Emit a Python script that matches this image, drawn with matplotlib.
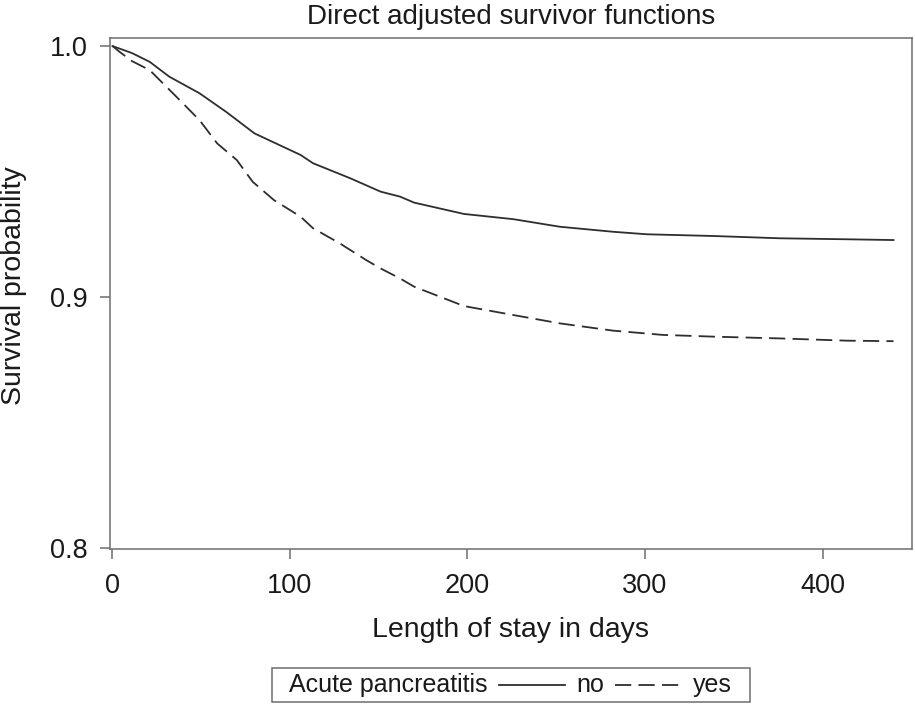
import matplotlib
matplotlib.use("Agg")
import matplotlib.pyplot as plt
from matplotlib.lines import Line2D
from matplotlib.offsetbox import TextArea, DrawingArea, HPacker, AnchoredOffsetbox

plt.rcParams["font.family"] = ["Liberation Sans", "DejaVu Sans"]

# survivor curve: no acute pancreatitis
no_days = [0, 11, 21, 32, 49, 64, 80, 106, 113, 134, 151, 162, 170, 198, 226,
           252, 282, 301, 339, 376, 414, 440]
no_surv = [1.0, 0.9972, 0.9937, 0.9878, 0.9812, 0.9738, 0.9652, 0.9566, 0.9533,
           0.9473, 0.9420, 0.9400, 0.9376, 0.9331, 0.9310, 0.9280, 0.9260,
           0.9250, 0.9243, 0.9234, 0.9230, 0.9227]

# acute pancreatitis
yes_days = [0, 4, 11, 21, 36, 49, 59, 70, 79, 91, 106, 113, 128, 143, 151, 162,
            170, 198, 226, 252, 282, 310, 339, 376, 414, 440]
yes_surv = [1.0, 0.9977, 0.9940, 0.9904, 0.9798, 0.9705, 0.9612, 0.9546, 0.9459,
            0.9386, 0.9320, 0.9274, 0.9214, 0.9147, 0.9114, 0.9074, 0.9041,
            0.8964, 0.8928, 0.8895, 0.8866, 0.8849, 0.8842, 0.8835, 0.8826,
            0.8824]

x_ticks = [0, 100, 200, 300, 400]
y_ticks = [0.8, 0.9, 1.0]

line_col = "#2e2e2e"
frame_col = "#6e6e6e"
dash = (9, 4)

fig = plt.figure(figsize=(9.15, 7.08), dpi=100)
ax = fig.add_axes([0.1202, 0.2246, 0.8765, 0.7217])

ax.plot(no_days, no_surv, color=line_col, lw=1.3)
ax.plot(yes_days, yes_surv, color=line_col, lw=1.3, dashes=dash)

ax.set_xlim(-1.4, 450.4)
ax.set_ylim(0.7996, 1.0032)
ax.set_xticks(x_ticks)
ax.set_yticks(y_ticks)
ax.set_yticklabels([f"{v:.1f}" for v in y_ticks])
ax.tick_params(axis="both", direction="out", length=7, width=1.1,
               color=frame_col, labelsize=19.5, labelcolor="#1a1a1a")
ax.tick_params(axis="x", pad=10)
ax.tick_params(axis="y", pad=9)
for s in ax.spines.values():
    s.set_color(frame_col)
    s.set_linewidth(1.1)

ax.set_title("Direct adjusted survivor functions", fontsize=20, color="#1a1a1a", pad=10)
ax.set_xlabel("Length of stay in days", fontsize=20.5, color="#1a1a1a", labelpad=13)
ax.set_ylabel("Survival probability", fontsize=20.5, color="#1a1a1a")
ax.yaxis.set_label_coords(-0.104, 0.515)

# Stata-style legend in one row
def sample(**kw):
    da = DrawingArea(48, 14)
    da.add_artist(Line2D([0, 48], [7, 7], color=line_col, lw=1.3, **kw))
    return da

tp = dict(size=18, color="#1a1a1a")
row = HPacker(children=[DrawingArea(1, 1),
                        TextArea("Acute pancreatitis", textprops=tp),
                        sample(),
                        TextArea("no", textprops=tp),
                        sample(dashes=dash),
                        TextArea("yes", textprops=tp),
                        DrawingArea(1, 1)],
              align="center", pad=0, sep=8)
box = AnchoredOffsetbox(loc="center", child=row, pad=0.36, borderpad=0,
                        bbox_to_anchor=(0.558, 0.0318),
                        bbox_transform=fig.transFigure, frameon=True)
box.patch.set_edgecolor(frame_col)
box.patch.set_linewidth(1.1)
fig.add_artist(box)

fig.savefig("out.png", dpi=100)
